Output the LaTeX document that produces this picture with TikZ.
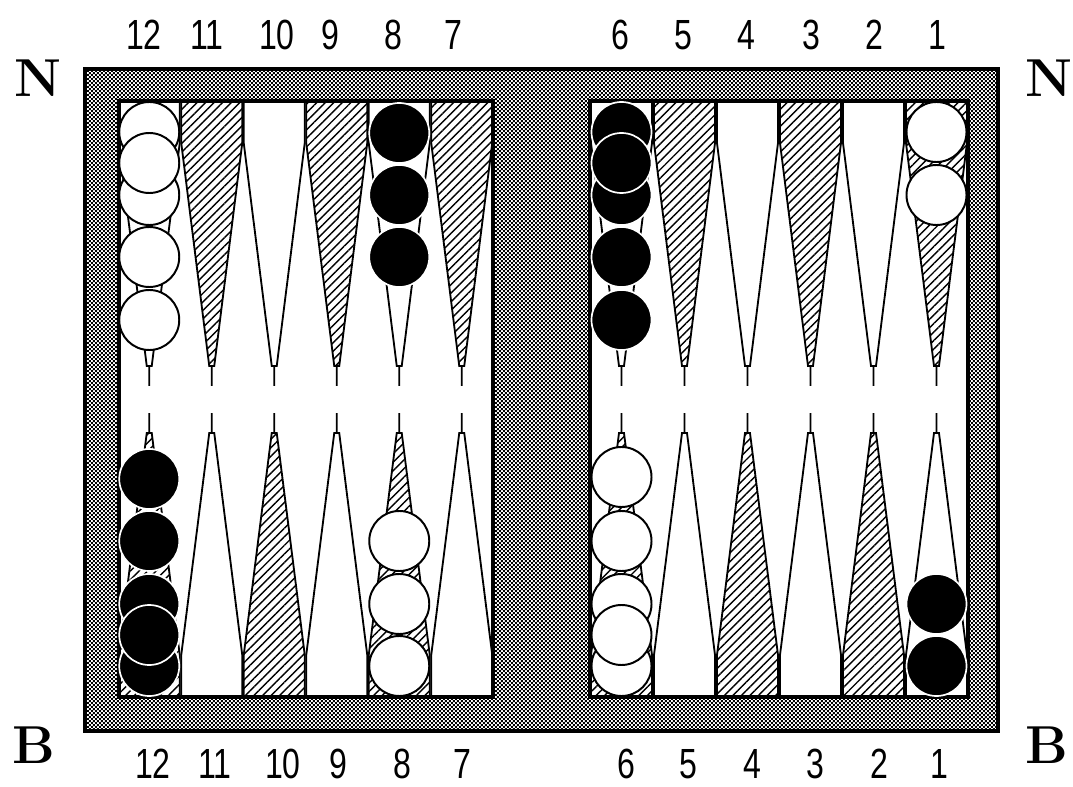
\documentclass[tikz,border=0pt]{standalone}
\usepackage{fontspec}
\usepackage{tikz}
\usetikzlibrary{patterns, patterns.meta}

\newfontfamily\numfont[FakeStretch=0.76]{Liberation Sans}

% fine dither used for the frame and the bar
\pgfdeclarepatternformonly{finecheck}{\pgfpointorigin}{\pgfqpoint{2.84pt}{2.84pt}}{\pgfqpoint{2.84pt}{2.84pt}}{%
  \pgfpathrectangle{\pgfpointorigin}{\pgfqpoint{1.42pt}{1.42pt}}%
  \pgfpathrectangle{\pgfqpoint{1.42pt}{1.42pt}}{\pgfqpoint{1.42pt}{1.42pt}}%
  \pgfusepath{fill}}

\begin{document}
\begin{tikzpicture}[
  x=0.025cm, y=-0.025cm,
  frame/.style={
    draw=black,
    line width=2.6pt
  },
  point/.style={
    draw=black,
    line width=1.3pt,
    line join=miter
  },
  hatched/.style={
    point,
    pattern={Lines[angle=45, distance=4.3pt, line width=1pt]}
  },
  whitechk/.style={
    circle,
    draw=black,
    fill=white,
    line width=1.4pt,
    minimum size=1.5cm,
    inner sep=0pt
  },
  blackchk/.style={
    circle,
    draw=white,
    fill=black,
    line width=1.2pt,
    minimum size=1.5cm,
    inner sep=0pt
  },
  num/.style={
    inner sep=0pt,
    font=\numfont\fontsize{30pt}{30pt}\selectfont
  },
  side/.style={
    inner sep=0pt,
    font=\fontsize{38pt}{38pt}\selectfont\bfseries
  }
]

\fill[white] (0,0) rectangle (1073,787);
\useasboundingbox (0,0) rectangle (1073,787);

% =========================================================
% Board: frame, bar and the two halves
% =========================================================
\draw[frame, pattern=finecheck] (85,69) rectangle (998,731);
\draw[frame, fill=white] (119,101) rectangle (493,697);
\draw[frame, fill=white] (590,101) rectangle (968,697);

% =========================================================
% Points
% =========================================================

% top row (N side)
\foreach \x in {149.25,274.25,399.25,621.5,747.5,873.5}
  \draw[point] (\x-30.5,101) -- (\x+30.5,101) -- (\x+30.5,143) -- (\x+2.5,366)
               -- (\x-2.5,366) -- (\x-30.5,143) -- cycle
               (\x,366) -- (\x,386);
\foreach \x in {211.75,336.75,461.75,684.5,810.5,936.5}
  \draw[hatched] (\x-30.5,101) -- (\x+30.5,101) -- (\x+30.5,143) -- (\x+2.5,366)
                 -- (\x-2.5,366) -- (\x-30.5,143) -- cycle
                 (\x,366) -- (\x,386);

% bottom row (B side)
\foreach \x in {149.25,274.25,399.25,621.5,747.5,873.5}
  \draw[hatched] (\x-30.5,697) -- (\x+30.5,697) -- (\x+30.5,655) -- (\x+2.5,433)
                 -- (\x-2.5,433) -- (\x-30.5,655) -- cycle
                 (\x,433) -- (\x,413);
\foreach \x in {211.75,336.75,461.75,684.5,810.5,936.5}
  \draw[point] (\x-30.5,697) -- (\x+30.5,697) -- (\x+30.5,655) -- (\x+2.5,433)
               -- (\x-2.5,433) -- (\x-30.5,655) -- cycle
               (\x,433) -- (\x,413);

% =========================================================
% Checkers
% =========================================================

% N side
\foreach \y [count=\i] in {132,195,257,320,163}
  \node[whitechk] (n12-\i) at (149.25,\y) {};
\foreach \y [count=\i] in {133,195,257}
  \node[blackchk] (n8-\i) at (399.25,\y) {};
\foreach \y [count=\i] in {132,195,257,320,163}
  \node[blackchk] (n6-\i) at (621.5,\y) {};
\foreach \y [count=\i] in {132,195}
  \node[whitechk] (n1-\i) at (936.5,\y) {};

% B side
\foreach \y [count=\i] in {666,604,541,479,635}
  \node[blackchk] (b12-\i) at (149.25,\y) {};
\foreach \y [count=\i] in {666,604,541}
  \node[whitechk] (b8-\i) at (399.25,\y) {};
\foreach \y [count=\i] in {666,604,541,477,635}
  \node[whitechk] (b6-\i) at (621.5,\y) {};
\foreach \y [count=\i] in {666,604}
  \node[blackchk] (b1-\i) at (936.5,\y) {};

% =========================================================
% Numbers and side letters
% =========================================================
\foreach \lab/\x in {12/144,11/207,10/277,9/330,8/393,7/453,6/620,5/683,4/746,3/811,2/874,1/937}
  \node[num] (top\lab) at (\x,35) {\lab};
\foreach \lab/\x in {12/153,11/215,10/283,9/338,8/402,7/462,6/626,5/688,4/752,3/815,2/879,1/939}
  \node[num] (bot\lab) at (\x,764) {\lab};

\node[side] (nleft)  at (38,78)   {N};
\node[side] (nright) at (1049,78) {N};
\node[side] (bleft)  at (34,745)  {B};
\node[side] (bright) at (1047,745) {B};

\end{tikzpicture}
\end{document}
